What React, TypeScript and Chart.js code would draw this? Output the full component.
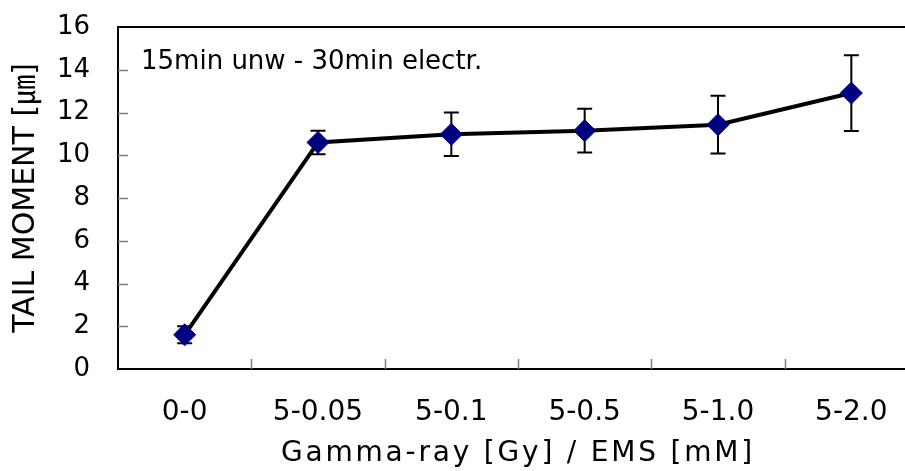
import { useEffect, useRef } from 'react';
import { Chart, registerables } from 'chart.js';

Chart.register(...registerables);

const categories = ['0-0', '5-0.05', '5-0.1', '5-0.5', '5-1.0', '5-2.0'];
const tailMoment = [1.6, 10.6, 10.98, 11.15, 11.43, 12.91];
const tailMomentError = [0.4, 0.55, 1.02, 1.02, 1.35, 1.77];
const yMin = 0;
const yMax = 16;
const yStep = 2;
const annotationText = '15min unw - 30min electr.';
const xTitle = 'Gamma-ray [Gy] / EMS [mM]';
const yTitle = 'TAIL MOMENT [㎛]';

const FONT = "'DejaVu Sans', 'Noto Sans CJK KR', sans-serif";

const decorPlugin = {
  id: 'decor',
  beforeDatasetsDraw(chart: any) {
    const { ctx, chartArea, scales } = chart;
    const x = scales.x;
    const y = scales.y;
    ctx.save();
    // inner tick marks
    ctx.strokeStyle = '#808080';
    ctx.lineWidth = 1.5;
    ctx.beginPath();
    for (let v = yMin + yStep; v < yMax; v += yStep) {
      const py = Math.round(y.getPixelForValue(v)) + 0.5;
      ctx.moveTo(chartArea.left, py);
      ctx.lineTo(chartArea.left + 10, py);
    }
    for (let i = 1; i < categories.length; i++) {
      const px = Math.round((x.getPixelForValue(i - 1) + x.getPixelForValue(i)) / 2) + 0.5;
      ctx.moveTo(px, chartArea.bottom);
      ctx.lineTo(px, chartArea.bottom - 10);
    }
    ctx.stroke();
    // error bars
    ctx.strokeStyle = '#000';
    ctx.lineWidth = 2;
    tailMoment.forEach((v, i) => {
      const px = x.getPixelForValue(i);
      const top = y.getPixelForValue(v + tailMomentError[i]);
      const bot = y.getPixelForValue(v - tailMomentError[i]);
      ctx.beginPath();
      ctx.moveTo(px, top);
      ctx.lineTo(px, bot);
      ctx.moveTo(px - 7.5, top);
      ctx.lineTo(px + 7.5, top);
      ctx.moveTo(px - 7.5, bot);
      ctx.lineTo(px + 7.5, bot);
      ctx.stroke();
    });
    // annotation
    ctx.fillStyle = '#000';
    ctx.font = `26px ${FONT}`;
    ctx.textAlign = 'left';
    ctx.textBaseline = 'middle';
    ctx.fillText(annotationText, chartArea.left + 23, chartArea.top + 35);
    ctx.restore();
  },
  afterDraw(chart: any) {
    const { ctx, chartArea } = chart;
    ctx.save();
    ctx.strokeStyle = '#000';
    ctx.lineWidth = 2;
    ctx.beginPath();
    ctx.moveTo(chartArea.left - 1, chartArea.top);
    ctx.lineTo(chartArea.right, chartArea.top);
    ctx.stroke();
    ctx.restore();
  },
};

export default function App() {
  const ref = useRef<HTMLCanvasElement | null>(null);

  useEffect(() => {
    if (!ref.current) return;
    const chart = new Chart(ref.current, {
      type: 'line',
      data: {
        labels: categories,
        datasets: [
          {
            data: tailMoment,
            borderColor: '#000',
            borderWidth: 4,
            tension: 0,
            pointStyle: 'rectRot',
            pointRadius: 11,
            pointBackgroundColor: '#000080',
            pointBorderColor: '#000080',
            pointBorderWidth: 1,
          },
        ],
      },
      options: {
        animation: false,
        responsive: false,
        maintainAspectRatio: false,
        layout: { padding: { left: 0, top: 27, right: 22, bottom: 0 } },
        plugins: {
          legend: { display: false },
          tooltip: { enabled: false },
        },
        scales: {
          x: {
            type: 'category',
            offset: true,
            grid: { display: false, drawTicks: false },
            border: { display: true, color: '#000', width: 2 },
            ticks: {
              color: '#000',
              padding: 27,
              maxRotation: 0,
              font: { family: FONT, size: 28 },
            },
            title: {
              display: true,
              text: xTitle,
              color: '#000',
              padding: { top: 0, bottom: 0 },
              font: { family: FONT, size: 28 },
            },
            afterFit: (s: any) => {
              s.height = 102;
              s.paddingLeft = 0;
              s.paddingRight = 0;
              s.paddingTop = 0;
              s.paddingBottom = 0;
            },
          },
          y: {
            min: yMin,
            max: yMax,
            grid: { display: false, drawTicks: false },
            border: { display: true, color: '#000', width: 2 },
            ticks: {
              stepSize: yStep,
              color: '#000',
              padding: 28,
              font: { family: FONT, size: 26 },
            },
            title: {
              display: true,
              text: yTitle,
              color: '#000',
              padding: { top: 8, bottom: 0 },
              font: { family: FONT, size: 30 },
            },
            afterFit: (s: any) => {
              s.width = 118;
              s.paddingLeft = 0;
              s.paddingRight = 0;
              s.paddingTop = 0;
              s.paddingBottom = 0;
            },
          },
        },
      },
      plugins: [decorPlugin],
    });
    const xs: any = chart.scales.x;
    const origDrawTitle = xs.drawTitle.bind(xs);
    xs.drawTitle = function () {
      const c = xs.ctx;
      c.save();
      c.letterSpacing = '2.8px';
      origDrawTitle();
      c.restore();
    };
    chart.draw();
    return () => chart.destroy();
  }, []);

  return (
    <div
      style={{
        position: 'fixed',
        left: 0,
        top: 0,
        width: 905,
        height: 471,
        overflow: 'hidden',
        background: '#fff',
      }}
    >
      <canvas ref={ref} width={940} height={471} style={{ display: 'block' }} />
    </div>
  );
}
